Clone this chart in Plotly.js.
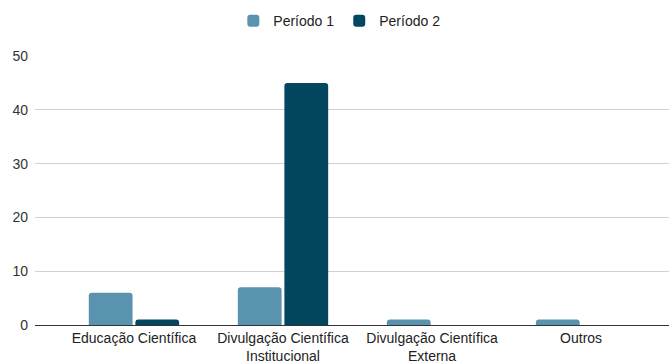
<!DOCTYPE html>
<html>
<head>
<meta charset="utf-8">
<script src="https://cdn.plot.ly/plotly-3.0.1.min.js"></script>
<style>
  html, body { margin: 0; padding: 0; background: #fff; }
  #chart { width: 669px; height: 363px; }
</style>
</head>
<body>
<div id="chart"></div>
<script>
// Categories and the two periods being compared
const categories = [
  "Educação Científica",
  "Divulgação Científica<br>Institucional",
  "Divulgação Científica<br>Externa",
  "Outros"
];
const periodo1 = [6, 7, 1, 1];
const periodo2 = [1, 45, 0, 0];
const seriesNames = ["Período 1", "Período 2"];
const yTicks = [0, 10, 20, 30, 40, 50];

const font = "Liberation Sans, Arial, sans-serif";

const traces = [
  {
    type: "bar",
    name: seriesNames[0],
    x: categories,
    y: periodo1,
    marker: { color: "#5a93b0", cornerradius: 3 },
    hoverinfo: "skip"
  },
  {
    type: "bar",
    name: seriesNames[1],
    x: categories,
    y: periodo2,
    marker: { color: "#02465f", cornerradius: 3 },
    hoverinfo: "skip"
  }
];

const layout = {
  width: 669,
  height: 363,
  margin: { l: 35, r: 0, t: 56, b: 38 },
  paper_bgcolor: "#ffffff",
  plot_bgcolor: "#ffffff",
  font: { family: font, size: 14, color: "#222" },
  barmode: "group",
  bargap: 0.375,
  bargroupgap: 0.06,
  showlegend: true,
  legend: {
    orientation: "h",
    x: 0.48, xanchor: "center",
    y: 1.13, yanchor: "middle",
    font: { family: font, size: 14, color: "#222" },
    itemwidth: 30,
    traceorder: "normal"
  },
  xaxis: {
    type: "category",
    range: [-0.664, 3.59],
    showgrid: false,
    zeroline: false,
    showline: true,
    linecolor: "#333333",
    linewidth: 1,
    ticks: "",
    tickfont: { family: font, size: 14, color: "#222" },
    automargin: false,
    fixedrange: true
  },
  yaxis: {
    range: [0, 50],
    tickvals: yTicks,
    ticktext: yTicks.map(String),
    showgrid: true,
    gridcolor: "#d0d0d0",
    gridwidth: 1,
    zeroline: false,
    showline: false,
    ticks: "",
    ticklabelstandoff: 6,
    tickfont: { family: font, size: 14, color: "#333" },
    automargin: false,
    fixedrange: true
  }
};

Plotly.newPlot("chart", traces, layout, { displayModeBar: false, staticPlot: true });
</script>
</body>
</html>
